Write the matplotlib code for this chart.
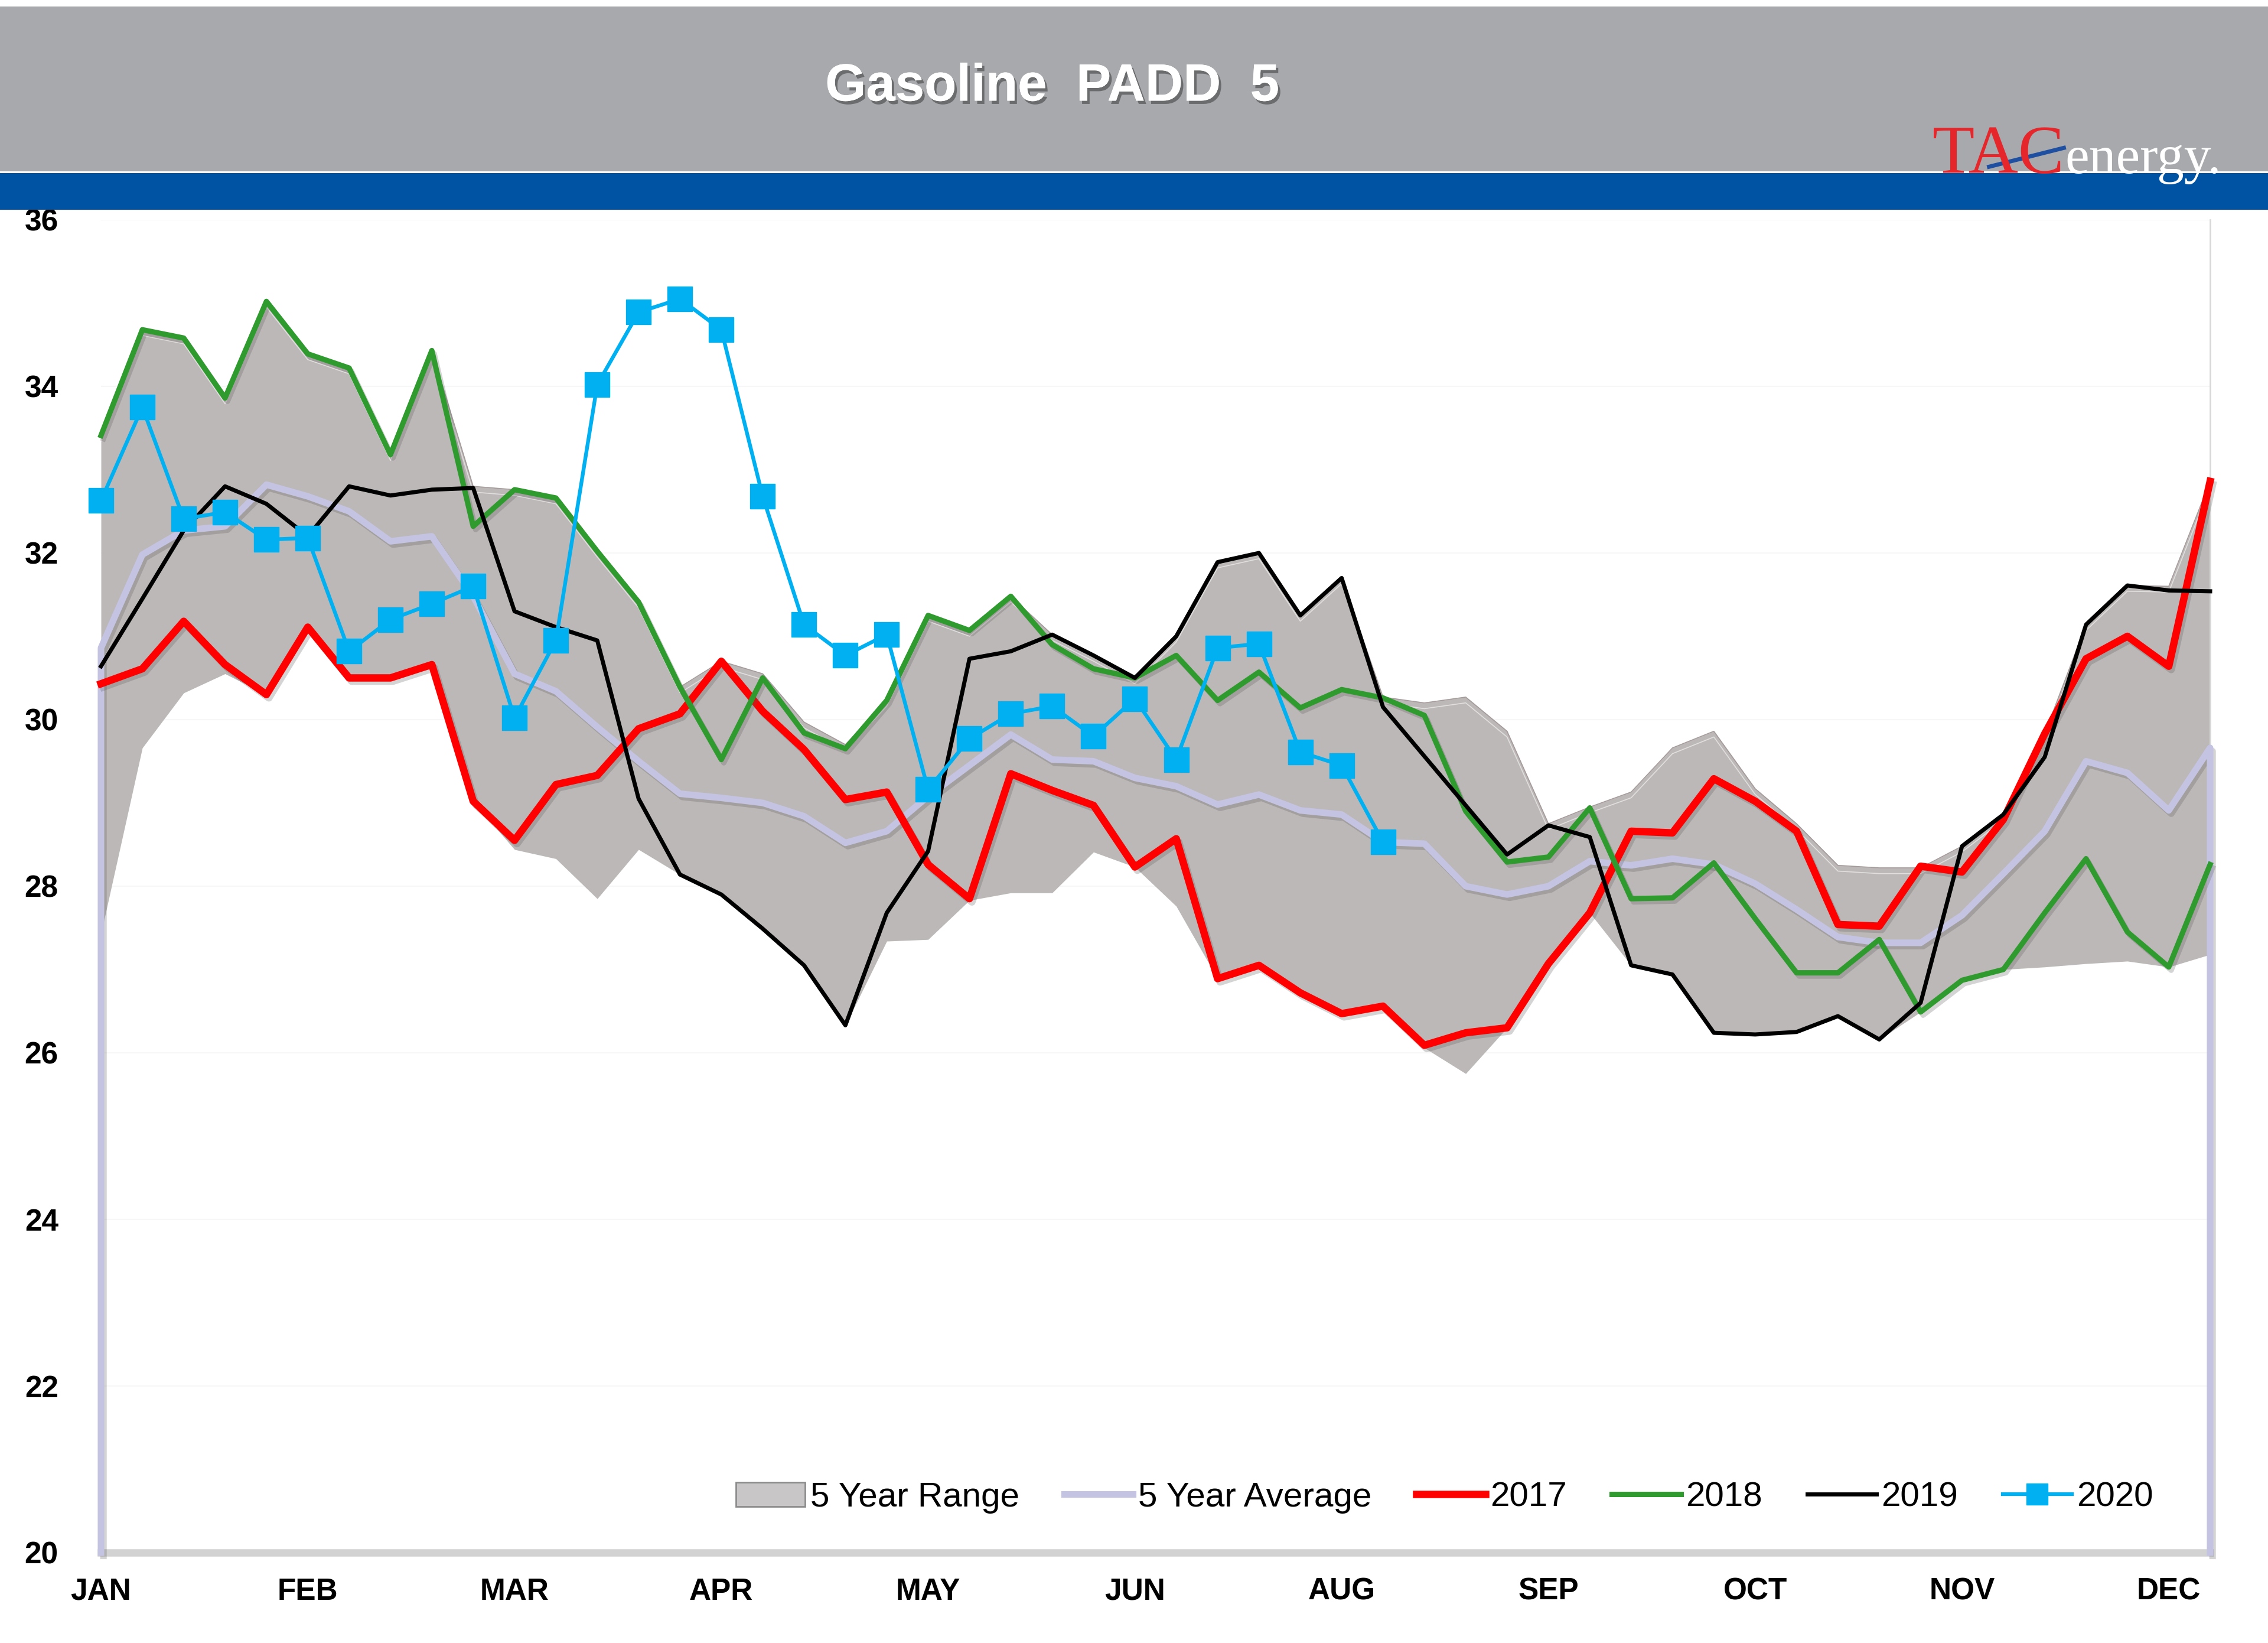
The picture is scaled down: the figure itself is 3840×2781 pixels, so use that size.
import matplotlib
matplotlib.use("Agg")
import matplotlib.pyplot as plt
import matplotlib.patheffects as pe
from matplotlib.patches import Rectangle, Patch
from matplotlib.lines import Line2D

#%% data (weekly)

month_labels = ["JAN", "FEB", "MAR", "APR", "MAY", "JUN", "AUG", "SEP", "OCT", "NOV", "DEC"]
month_weeks = [0, 5, 10, 15, 20, 25, 30, 35, 40, 45, 50]

weeks = list(range(52))

range_hi = [33.41, 34.68, 34.58, 33.86, 35.02, 34.39, 34.22, 33.18, 34.43, 32.80,
            32.76, 32.66, 32.02, 31.41, 30.39, 30.70, 30.55, 29.97, 29.70, 30.23,
            31.25, 31.07, 31.48, 31.02, 30.77, 30.50, 31.00, 31.89, 32.00, 31.25,
            31.70, 30.27, 30.20, 30.27, 29.86, 28.75, 28.95, 29.13, 29.66, 29.86,
            29.17, 28.75, 28.25, 28.22, 28.22, 28.48, 28.86, 29.83, 31.14, 31.61,
            31.60, 32.86]
range_lo = [27.43, 29.66, 30.32, 30.55, 30.30, 31.11, 30.50, 30.50, 30.66, 29.02,
            28.44, 28.33, 27.85, 28.44, 28.14, 27.90, 27.49, 27.05, 26.33, 27.34,
            27.36, 27.83, 27.92, 27.92, 28.41, 28.23, 27.76, 26.89, 27.05, 26.72,
            26.47, 26.56, 26.06, 25.75, 26.30, 27.07, 27.68, 27.05, 26.94, 26.24,
            26.22, 26.25, 26.44, 26.16, 26.49, 26.87, 27.00, 27.03, 27.07, 27.10,
            27.03, 27.18]
avg5 = [30.86, 31.98, 32.27, 32.32, 32.82, 32.68, 32.50, 32.14, 32.20, 31.48,
        30.55, 30.34, 29.91, 29.50, 29.11, 29.06, 29.00, 28.84, 28.52, 28.66,
        29.08, 29.45, 29.82, 29.52, 29.50, 29.30, 29.20, 28.98, 29.10, 28.91,
        28.86, 28.53, 28.51, 28.00, 27.90, 28.00, 28.30, 28.25, 28.33, 28.26,
        28.03, 27.72, 27.39, 27.32, 27.32, 27.65, 28.15, 28.66, 29.50, 29.36,
        28.91, 29.66]
y2017 = [30.43, 30.61, 31.18, 30.66, 30.30, 31.11, 30.50, 30.50, 30.66, 29.02,
         28.55, 29.22, 29.33, 29.89, 30.07, 30.70, 30.10, 29.64, 29.04, 29.13,
         28.26, 27.85, 29.35, 29.15, 28.97, 28.23, 28.57, 26.89, 27.05, 26.72,
         26.47, 26.56, 26.09, 26.24, 26.30, 27.07, 27.68, 28.66, 28.64, 29.29,
         29.02, 28.66, 27.54, 27.52, 28.24, 28.17, 28.80, 29.83, 30.73, 31.00,
         30.64, 32.86]
y2018 = [33.41, 34.68, 34.58, 33.86, 35.02, 34.39, 34.22, 33.18, 34.43, 32.32,
         32.76, 32.66, 32.02, 31.41, 30.39, 29.52, 30.50, 29.84, 29.65, 30.23,
         31.25, 31.07, 31.48, 30.90, 30.61, 30.50, 30.77, 30.23, 30.57, 30.14,
         30.36, 30.26, 30.05, 28.90, 28.29, 28.35, 28.94, 27.85, 27.86, 28.28,
         27.61, 26.96, 26.96, 27.36, 26.49, 26.87, 27.00, 27.68, 28.33, 27.45,
         27.03, 28.26]
y2019 = [30.64, 31.45, 32.27, 32.80, 32.59, 32.20, 32.80, 32.69, 32.76, 32.78,
         31.30, 31.11, 30.95, 29.05, 28.14, 27.90, 27.49, 27.05, 26.33, 27.68,
         28.42, 30.73, 30.82, 31.02, 30.77, 30.50, 31.00, 31.89, 32.00, 31.25,
         31.70, 30.15, 29.56, 28.97, 28.38, 28.73, 28.59, 27.05, 26.94, 26.24,
         26.22, 26.25, 26.44, 26.16, 26.60, 28.48, 28.86, 29.55, 31.14, 31.61,
         31.55, 31.54]
y2020 = [32.63, 33.75, 32.41, 32.49, 32.16, 32.18, 30.82, 31.20, 31.39, 31.60,
         30.02, 30.95, 34.02, 34.89, 35.05, 34.68, 32.68, 31.14, 30.77, 31.02,
         29.16, 29.77, 30.07, 30.16, 29.80, 30.25, 29.52, 30.86, 30.91, 29.61,
         29.45, 28.53]

y_min, y_max = 20, 36

c_range = "#bcb8b7"
c_avg = "#c4c4e2"
c_2017 = "#ff0000"
c_2018 = "#2f9b2f"
c_2019 = "#000000"
c_2020 = "#00b0f0"

plt.rcParams['font.family'] = ['Liberation Sans', 'DejaVu Sans']

fig = plt.figure(figsize=(38.4, 27.81), dpi=100)
fig.patch.set_facecolor("white")

#%% banner

fig.patches.append(Rectangle((0, 0.8957), 1, 0.1003, transform=fig.transFigure,
                             facecolor="#a7a9ac", edgecolor="none", zorder=0))
fig.patches.append(Rectangle((0, 0.8723), 1, 0.0223, transform=fig.transFigure,
                             facecolor="#0053a3", edgecolor="none", zorder=0))
fig.text(0.464, 0.947, "Gasoline  PADD  5", color="white", fontsize=64,
         fontweight="bold", ha="center", va="center",
         path_effects=[pe.withSimplePatchShadow(offset=(3, -4), shadow_rgbFace="#444444", alpha=0.6),
                       pe.Normal()])
fig.text(0.852, 0.8945, "TAC", color="#e5262b", fontsize=84, family="Liberation Serif",
         ha="left", va="baseline")
fig.text(0.9105, 0.8945, "energy.", color="white", fontsize=66, family="Liberation Serif",
         ha="left", va="baseline")
fig.lines.append(Line2D([0.877, 0.910], [0.8985, 0.9100], transform=fig.transFigure,
                        color="#1f4fa0", lw=5))

#%% chart

ax = fig.add_axes([0.04453, 0.05502, 0.92995, 0.81122])
ax.set_facecolor("white")

shadow = [pe.SimpleLineShadow(offset=(3, -4), shadow_color="#555555", alpha=0.25), pe.Normal()]

ax.fill_between(weeks, range_lo, range_hi, color=c_range, lw=0, zorder=1, clip_on=False)
ax.plot(weeks, range_hi, color="#a49a9a", lw=1.2, zorder=1.5, clip_on=False,
        path_effects=[pe.SimpleLineShadow(offset=(0, -7), shadow_color="white", alpha=0.55, rho=1.0),
                      pe.Normal()])

ax.plot([weeks[0]] + weeks + [weeks[-1]], [y_min] + avg5 + [y_min], color=c_avg, lw=8,
        zorder=3, clip_on=False, path_effects=shadow)
ax.plot(weeks, y2017, color=c_2017, lw=9, zorder=4, clip_on=False, path_effects=shadow)
ax.plot(weeks, y2018, color=c_2018, lw=6.5, zorder=5, clip_on=False, path_effects=shadow)
ax.plot(weeks, y2019, color=c_2019, lw=5, zorder=6, clip_on=False)
ax.plot(weeks[:len(y2020)], y2020, color=c_2020, lw=4.6, marker="s", markersize=30,
        zorder=7, clip_on=False)

ax.set_xlim(weeks[0], weeks[-1])
ax.set_ylim(y_min, y_max)
ax.set_yticks(range(y_min, y_max + 1, 2))
ax.set_xticks(month_weeks)
ax.set_xticklabels(month_labels)
ax.tick_params(axis="both", length=0, labelsize=37)
ax.tick_params(axis="y", pad=52)
ax.tick_params(axis="x", pad=30)
for lbl in ax.get_xticklabels() + ax.get_yticklabels():
    lbl.set_fontweight("bold")
ax.grid(axis="y", color="#f7f7f7", lw=1.5, zorder=0)
ax.set_axisbelow(True)

for s in ["top", "left"]:
    ax.spines[s].set_visible(False)
ax.spines["bottom"].set_color("#d2d2d2")
ax.spines["bottom"].set_linewidth(9)
ax.spines["right"].set_color("#d8d8d8")
ax.spines["right"].set_linewidth(2)

handles = [Patch(facecolor="#c8c6c6", edgecolor="#8c8c8c", lw=2),
           Line2D([], [], color=c_avg, lw=8),
           Line2D([], [], color=c_2017, lw=9),
           Line2D([], [], color=c_2018, lw=6.5),
           Line2D([], [], color=c_2019, lw=5),
           Line2D([], [], color=c_2020, lw=4.6, marker="s", markersize=26)]
labels = ["5 Year Range", "5 Year Average", "2017", "2018", "2019", "2020"]
fig.legend(handles, labels, loc="center", bbox_to_anchor=(0.637, 0.0885), ncol=6,
           frameon=False, fontsize=42, handlelength=2.0, handletextpad=0.15,
           columnspacing=1.3)

plt.savefig("out.png", dpi=100)
